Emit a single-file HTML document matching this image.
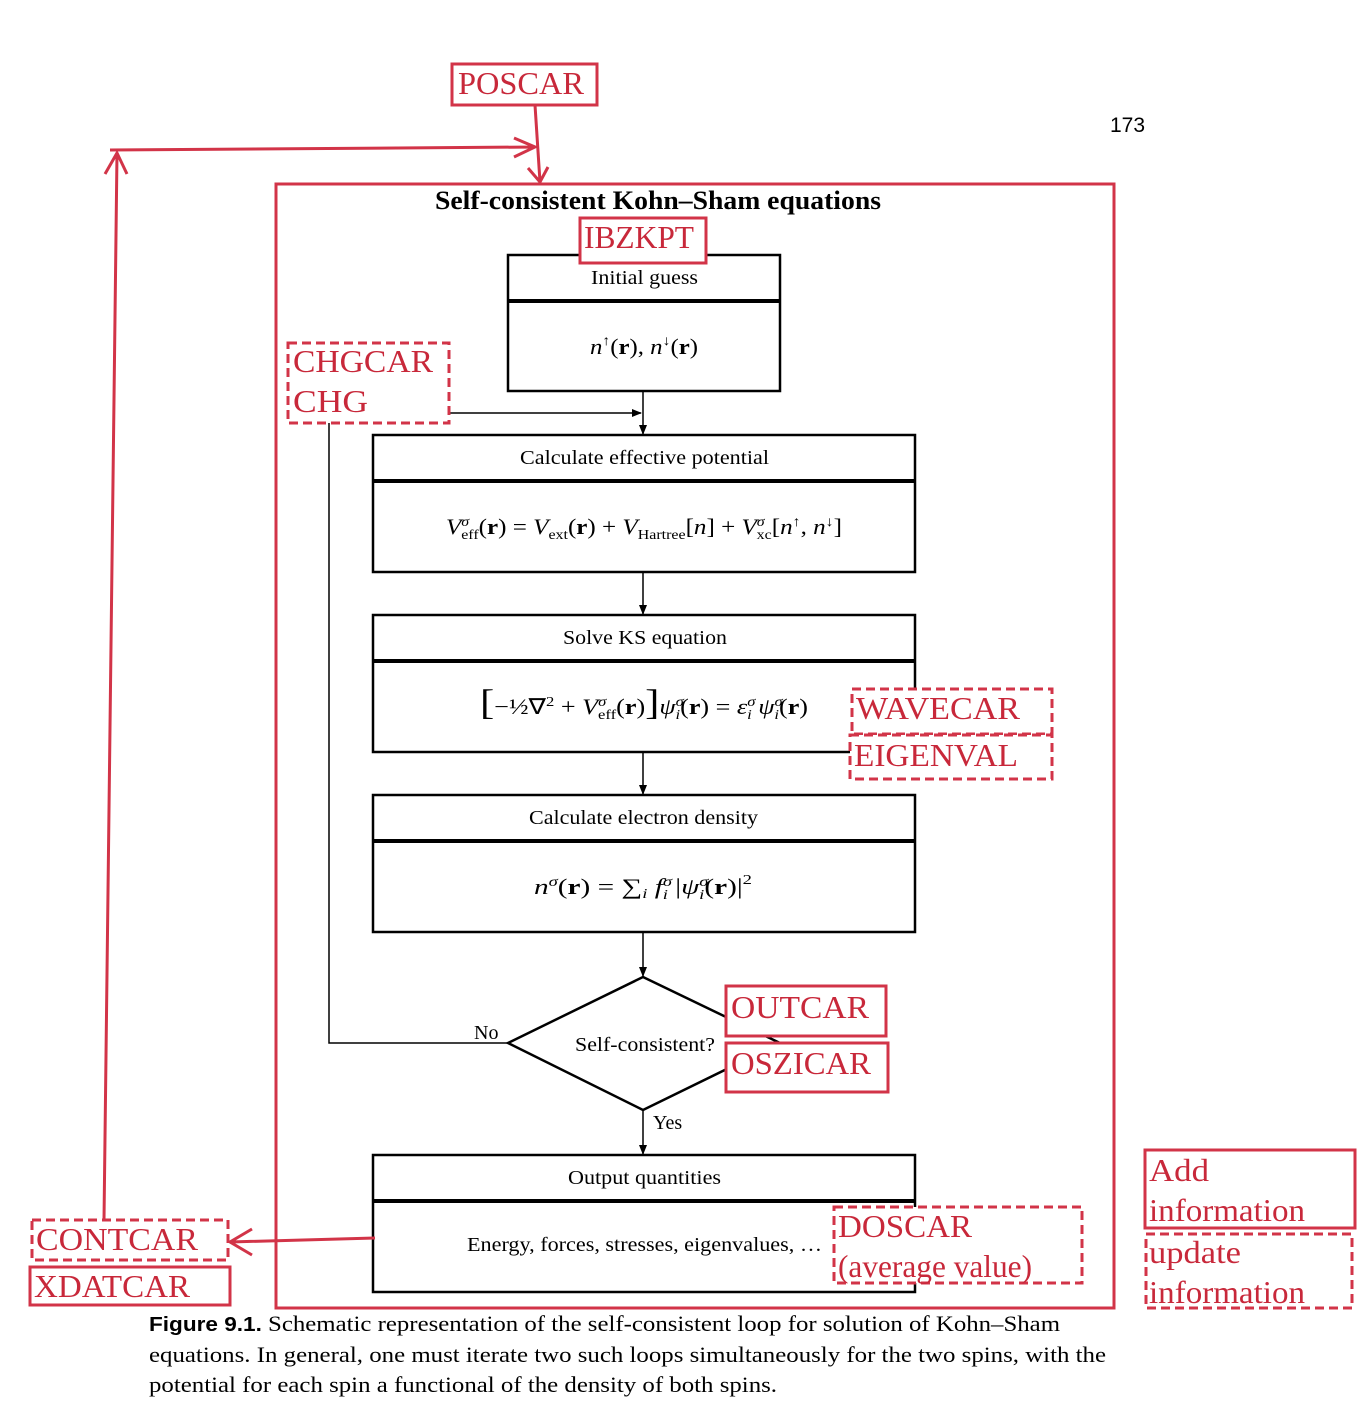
<!DOCTYPE html>
<html><head><meta charset="utf-8"><style>
html,body{margin:0;padding:0;background:#fff;}
svg{display:block}
.r{font-family:"Liberation Serif",serif;fill:#c8283a;font-size:32px}
.t{font-family:"Liberation Serif",serif;fill:#000;font-size:20px}
.m{font-family:"Liberation Serif",serif;fill:#000;font-size:22px;font-style:italic}
.c{font-family:"Liberation Serif",serif;fill:#000;font-size:22px}
</style></head><body>
<svg width="1370" height="1422" viewBox="0 0 1370 1422" xmlns="http://www.w3.org/2000/svg">
<defs>
<marker id="ab" markerWidth="10" markerHeight="10" refX="9" refY="5" orient="auto" markerUnits="userSpaceOnUse"><path d="M0,1 L10,5 L0,9 z" fill="#000"/></marker>
</defs>
<g fill="none" stroke="#000" stroke-width="2.5">
<rect x="508" y="255" width="272" height="136"/>
<line x1="508" y1="301" x2="780" y2="301" stroke-width="4"/>
<rect x="373" y="435" width="542" height="137"/>
<line x1="373" y1="481" x2="915" y2="481" stroke-width="4"/>
<rect x="373" y="615" width="542" height="137"/>
<line x1="373" y1="661" x2="915" y2="661" stroke-width="4"/>
<rect x="373" y="795" width="542" height="137"/>
<line x1="373" y1="841" x2="915" y2="841" stroke-width="4"/>
<rect x="373" y="1155" width="542" height="137"/>
<line x1="373" y1="1201" x2="915" y2="1201" stroke-width="4"/>
<path d="M643,977 L780,1043 L643,1110 L508,1043 Z"/>
</g>
<g stroke="#000" stroke-width="1.5" fill="none">
<line x1="449" y1="413" x2="641" y2="413" marker-end="url(#ab)"/>
<line x1="643" y1="391" x2="643" y2="434" marker-end="url(#ab)"/>
<line x1="643" y1="572" x2="643" y2="614" marker-end="url(#ab)"/>
<line x1="643" y1="752" x2="643" y2="794" marker-end="url(#ab)"/>
<line x1="643" y1="932" x2="643" y2="976" marker-end="url(#ab)"/>
<line x1="643" y1="1110" x2="643" y2="1154" marker-end="url(#ab)"/>
<path d="M329,423 L329,1043 L508,1043"/>
</g>
<g fill="#fff" stroke="#d23448" stroke-width="3">
<rect x="452" y="64" width="145" height="41"/>
<rect x="276" y="184" width="838" height="1124" fill="none"/>
<rect x="580" y="218" width="126" height="45"/>
<rect x="726" y="986" width="160" height="50"/>
<rect x="726" y="1043" width="162" height="49"/>
<rect x="30" y="1267" width="200" height="38"/>
<rect x="1145" y="1150" width="210" height="78"/>
<g stroke-dasharray="9,5">
<rect x="288" y="343" width="161" height="80"/>
<rect x="852" y="689" width="200" height="45"/>
<rect x="850" y="735" width="202" height="44"/>
<rect x="834" y="1207" width="248" height="76"/>
<rect x="32" y="1220" width="196" height="40"/>
<rect x="1146" y="1234" width="206" height="74"/>
</g>
<g fill="none">
<path d="M535,105 L540,182 M528,168 L540,182 L548,167"/>
<path d="M104,1220 L117,153 M105,174 L117,153 L127,174"/>
<path d="M110,150 L535,147 M514,138 L535,147 L514,157"/>
<path d="M375,1238 L230,1242 M252,1229 L230,1242 L252,1255"/>
</g>
</g>
<g lengthAdjust="spacingAndGlyphs">
<text x="458" y="94" class="r" textLength="126" lengthAdjust="spacingAndGlyphs">POSCAR</text>
<text x="584" y="248" class="r" textLength="110" lengthAdjust="spacingAndGlyphs">IBZKPT</text>
<text x="293" y="372" class="r" textLength="140" lengthAdjust="spacingAndGlyphs">CHGCAR</text>
<text x="293" y="412" class="r" textLength="75" lengthAdjust="spacingAndGlyphs">CHG</text>
<text x="856" y="719" class="r" textLength="164" lengthAdjust="spacingAndGlyphs">WAVECAR</text>
<text x="854" y="766" class="r" textLength="164" lengthAdjust="spacingAndGlyphs">EIGENVAL</text>
<text x="731" y="1018" class="r" textLength="138" lengthAdjust="spacingAndGlyphs">OUTCAR</text>
<text x="731" y="1074" class="r" textLength="140" lengthAdjust="spacingAndGlyphs">OSZICAR</text>
<text x="838" y="1237" class="r" textLength="134" lengthAdjust="spacingAndGlyphs">DOSCAR</text>
<text x="838" y="1277" class="r" textLength="194" lengthAdjust="spacingAndGlyphs">(average value)</text>
<text x="36" y="1250" class="r" textLength="162" lengthAdjust="spacingAndGlyphs">CONTCAR</text>
<text x="34" y="1297" class="r" textLength="156" lengthAdjust="spacingAndGlyphs">XDATCAR</text>
<text x="1149" y="1181" class="r" textLength="60" lengthAdjust="spacingAndGlyphs">Add</text>
<text x="1149" y="1221" class="r" textLength="156" lengthAdjust="spacingAndGlyphs">information</text>
<text x="1149" y="1263" class="r" textLength="92" lengthAdjust="spacingAndGlyphs">update</text>
<text x="1149" y="1303" class="r" textLength="156" lengthAdjust="spacingAndGlyphs">information</text>
</g>
<text x="1110" y="132" font-family="Liberation Sans,sans-serif" font-size="21" fill="#000">173</text>
<text x="435" y="209" font-family="Liberation Serif,serif" font-weight="bold" font-size="26" fill="#000" textLength="446" lengthAdjust="spacingAndGlyphs">Self-consistent Kohn–Sham equations</text>
<text x="591" y="284" class="t" textLength="107" lengthAdjust="spacingAndGlyphs">Initial guess</text>
<text x="520" y="464" class="t" textLength="249" lengthAdjust="spacingAndGlyphs">Calculate effective potential</text>
<text x="563" y="644" class="t" textLength="164" lengthAdjust="spacingAndGlyphs">Solve KS equation</text>
<text x="529" y="824" class="t" textLength="229" lengthAdjust="spacingAndGlyphs">Calculate electron density</text>
<text x="568" y="1184" class="t" textLength="153" lengthAdjust="spacingAndGlyphs">Output quantities</text>
<text x="575" y="1051" class="t" textLength="140" lengthAdjust="spacingAndGlyphs">Self-consistent?</text>
<text x="474" y="1039" class="t" font-size="17">No</text>
<text x="653" y="1129" class="t" font-size="17">Yes</text>
<text x="467" y="1251" class="t" textLength="355" lengthAdjust="spacingAndGlyphs">Energy, forces, stresses, eigenvalues, …</text>
<text x="590" y="354" class="m" textLength="108" lengthAdjust="spacingAndGlyphs">n<tspan font-size="14" dy="-9" font-style="normal">↑</tspan><tspan dy="9" font-style="normal">(<tspan font-weight="bold">r</tspan>), </tspan>n<tspan font-size="14" dy="-9" font-style="normal">↓</tspan><tspan dy="9" font-style="normal">(<tspan font-weight="bold">r</tspan>)</tspan></text>
<text x="446" y="534" class="m" textLength="396" lengthAdjust="spacingAndGlyphs">V<tspan font-size="14" dy="-8">σ</tspan><tspan font-size="14" dx="-7" dy="13" font-style="normal">eff</tspan><tspan dy="-5" font-style="normal">(<tspan font-weight="bold">r</tspan>) = </tspan>V<tspan font-size="14" dy="5" font-style="normal">ext</tspan><tspan dy="-5" font-style="normal">(<tspan font-weight="bold">r</tspan>) + </tspan>V<tspan font-size="14" dy="5" font-style="normal">Hartree</tspan><tspan dy="-5" font-style="normal">[</tspan>n<tspan font-style="normal">] + </tspan>V<tspan font-size="14" dy="-8">σ</tspan><tspan font-size="14" dx="-7" dy="13" font-style="normal">xc</tspan><tspan dy="-5" font-style="normal">[</tspan>n<tspan font-size="14" dy="-8" font-style="normal">↑</tspan><tspan dy="8" font-style="normal">, </tspan>n<tspan font-size="14" dy="-8" font-style="normal">↓</tspan><tspan dy="8" font-style="normal">]</tspan></text>
<text x="480" y="714" class="m" textLength="328" lengthAdjust="spacingAndGlyphs"><tspan font-style="normal" font-size="36">[</tspan><tspan font-style="normal">−½∇</tspan><tspan font-size="14" dy="-8" font-style="normal">2</tspan><tspan dy="8" font-style="normal"> + </tspan>V<tspan font-size="14" dy="-8">σ</tspan><tspan font-size="14" dx="-7" dy="13" font-style="normal">eff</tspan><tspan dy="-5" font-style="normal">(<tspan font-weight="bold">r</tspan>)</tspan><tspan font-style="normal" font-size="36">]</tspan>ψ<tspan font-size="14" dy="-8">σ</tspan><tspan font-size="14" dx="-7" dy="13">i</tspan><tspan dy="-5" font-style="normal">(<tspan font-weight="bold">r</tspan>) = </tspan>ε<tspan font-size="14" dy="-8">σ</tspan><tspan font-size="14" dx="-7" dy="13">i</tspan><tspan dy="-5"> ψ</tspan><tspan font-size="14" dy="-8">σ</tspan><tspan font-size="14" dx="-7" dy="13">i</tspan><tspan dy="-5" font-style="normal">(<tspan font-weight="bold">r</tspan>)</tspan></text>
<text x="534" y="894" class="m" textLength="218" lengthAdjust="spacingAndGlyphs">n<tspan font-size="14" dy="-8">σ</tspan><tspan dy="8" font-style="normal">(<tspan font-weight="bold">r</tspan>) = ∑</tspan><tspan font-size="14" dy="4">i</tspan><tspan dy="-4"> f</tspan><tspan font-size="14" dy="-8">σ</tspan><tspan font-size="14" dx="-7" dy="13">i</tspan><tspan dy="-5" font-style="normal"> |</tspan>ψ<tspan font-size="14" dy="-8">σ</tspan><tspan font-size="14" dx="-7" dy="13">i</tspan><tspan dy="-5" font-style="normal">(<tspan font-weight="bold">r</tspan>)|</tspan><tspan font-size="14" dy="-10" font-style="normal">2</tspan></text>
<text x="149" y="1331" class="c" textLength="911" lengthAdjust="spacingAndGlyphs"><tspan font-family="Liberation Sans,sans-serif" font-weight="bold" font-size="20">Figure 9.1.</tspan>  Schematic representation of the self-consistent loop for solution of Kohn–Sham</text>
<text x="149" y="1362" class="c" textLength="957" lengthAdjust="spacingAndGlyphs">equations. In general, one must iterate two such loops simultaneously for the two spins, with the</text>
<text x="149" y="1392" class="c" textLength="628" lengthAdjust="spacingAndGlyphs">potential for each spin a functional of the density of both spins.</text>
</svg>
</body></html>
